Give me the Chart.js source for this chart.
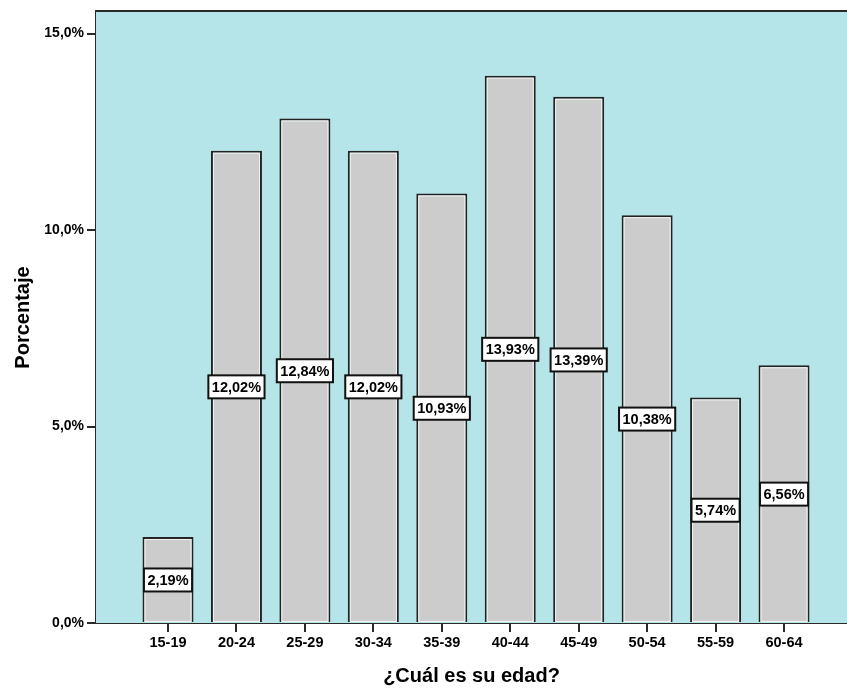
<!DOCTYPE html>
<html>
<head>
<meta charset="utf-8">
<script src="https://cdn.jsdelivr.net/npm/chart.js@4"></script>
<style>
  html, body { margin: 0; padding: 0; background: #ffffff; }
  #wrap { width: 847px; height: 688px; }
</style>
</head>
<body>
<div id="wrap"><canvas id="chart" width="847" height="688"></canvas></div>
<script>
// Age groups and share of respondents (%)
const categories = ['15-19', '20-24', '25-29', '30-34', '35-39', '40-44', '45-49', '50-54', '55-59', '60-64'];
const percentages = [2.19, 12.02, 12.84, 12.02, 10.93, 13.93, 13.39, 10.38, 5.74, 6.56];
const yTicks = [0, 5, 10, 15];

const FONT = "'Liberation Sans', Arial, sans-serif";
const fmtPct = (v, d) => v.toFixed(d).replace('.', ',') + '%';

// Plot background, frame line on top, bar highlights and value boxes
const decorations = {
  id: 'decorations',
  beforeDatasetsDraw(chart) {
    const { ctx, chartArea: a } = chart;
    ctx.save();
    ctx.fillStyle = '#b5e5e8';
    ctx.fillRect(a.left, a.top, a.right - a.left, a.bottom - a.top);
    ctx.restore();
  },
  afterDatasetsDraw(chart) {
    const { ctx, chartArea: a } = chart;
    const meta = chart.getDatasetMeta(0);
    const yScale = chart.scales.y;
    ctx.save();
    // thin light inner edge on each bar
    meta.data.forEach(bar => {
      const half = bar.width / 2;
      ctx.strokeStyle = 'rgba(255,255,255,0.75)';
      ctx.lineWidth = 1;
      ctx.strokeRect(bar.x - half + 2.5, bar.y + 2.5, bar.width - 5, bar.base - bar.y - 3);
    });
    // value boxes at half height of each bar
    ctx.font = "bold 14.5px " + FONT;
    ctx.textAlign = 'center';
    ctx.textBaseline = 'middle';
    meta.data.forEach((bar, i) => {
      const v = percentages[i];
      const text = fmtPct(v, 2);
      const cy = yScale.getPixelForValue(v / 2);
      const w = ctx.measureText(text).width + 7;
      const h = 23;
      ctx.fillStyle = '#ffffff';
      ctx.fillRect(bar.x - w / 2, cy - h / 2, w, h);
      ctx.strokeStyle = '#111111';
      ctx.lineWidth = 2;
      ctx.strokeRect(bar.x - w / 2, cy - h / 2, w, h);
      ctx.fillStyle = '#000000';
      ctx.fillText(text, bar.x, cy + 1);
    });
    // top frame line
    ctx.strokeStyle = '#2a2a2a';
    ctx.lineWidth = 2;
    ctx.beginPath();
    ctx.moveTo(a.left - 1, a.top - 1);
    ctx.lineTo(a.right, a.top - 1);
    ctx.stroke();
    ctx.restore();
  }
};

new Chart(document.getElementById('chart'), {
  type: 'bar',
  data: {
    datasets: [{
      data: percentages.map((v, i) => ({ x: i + 1, y: v })),
      backgroundColor: '#cccccc',
      borderColor: '#222222',
      borderWidth: 2,
      barPercentage: 0.745,
      categoryPercentage: 1
    }]
  },
  options: {
    responsive: false,
    animation: false,
    layout: { padding: { top: 12, right: 0, left: 0, bottom: 0 } },
    plugins: { legend: { display: false }, tooltip: { enabled: false } },
    scales: {
      x: {
        type: 'linear',
        offset: false,
        min: -0.052,
        max: 10.92,
        afterBuildTicks(scale) { scale.ticks = categories.map((c, i) => ({ value: i + 1 })); },
        afterFit(scale) { scale.height = 65; },
        grid: { offset: false, drawOnChartArea: false, drawTicks: true, tickLength: 9, color: '#2a2a2a', lineWidth: 2 },
        border: { display: true, color: '#2a2a2a', width: 2 },
        ticks: {
          padding: 2,
          color: '#000',
          font: { family: FONT, size: 14.5, weight: 'bold' },
          maxRotation: 0,
          callback: v => categories[Math.round(v) - 1] || ''
        },
        title: {
          display: true,
          text: '¿Cuál es su edad?',
          color: '#000',
          font: { family: FONT, size: 20, weight: 'bold' },
          padding: { top: 0, bottom: 0 }
        }
      },
      y: {
        min: 0,
        max: 15.55,
        afterBuildTicks(scale) { scale.ticks = yTicks.map(v => ({ value: v })); },
        afterFit(scale) { scale.width = 96; },
        grid: { drawOnChartArea: false, drawTicks: true, tickLength: 9, color: '#2a2a2a', lineWidth: 2 },
        border: { display: true, color: '#2a2a2a', width: 2 },
        ticks: {
          padding: 3,
          color: '#000',
          font: { family: FONT, size: 14, weight: 'bold' },
          callback: v => fmtPct(v, 1)
        },
        title: {
          display: true,
          text: 'Porcentaje',
          color: '#000',
          font: { family: FONT, size: 20, weight: 'bold' },
          padding: { top: 11, bottom: 0 }
        }
      }
    }
  },
  plugins: [decorations]
});
</script>
</body>
</html>
